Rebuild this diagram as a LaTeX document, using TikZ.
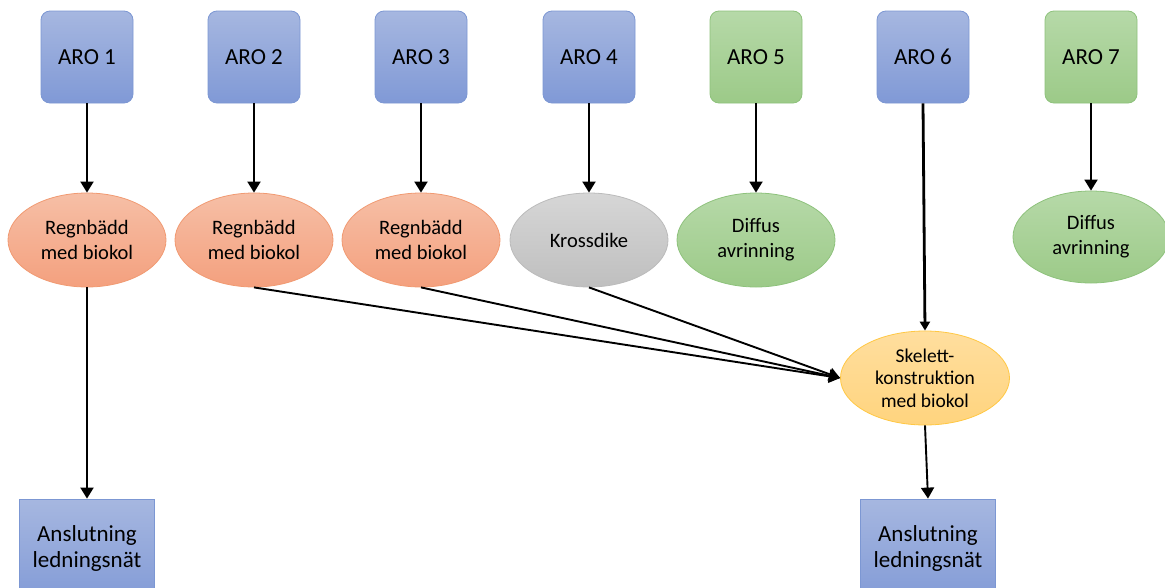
\documentclass[tikz,border=0pt]{standalone}
\usepackage{fontspec}
\setmainfont{Carlito}
\usetikzlibrary{arrows.meta,shapes.geometric}
\definecolor{blueT}{HTML}{A6B7E0}
\definecolor{blueB}{HTML}{8099D6}
\definecolor{blueD}{HTML}{7C97D3}
\definecolor{orT}{HTML}{F6BFA6}
\definecolor{orB}{HTML}{F4A07E}
\definecolor{orD}{HTML}{F19A72}
\definecolor{grT}{HTML}{D6D6D6}
\definecolor{grB}{HTML}{BFBFBF}
\definecolor{grD}{HTML}{BBBBBB}
\definecolor{gnT}{HTML}{B6D9A8}
\definecolor{gnB}{HTML}{9CCA88}
\definecolor{gnD}{HTML}{8EC27C}
\definecolor{yeT}{HTML}{FFDE9E}
\definecolor{yeB}{HTML}{FFD47E}
\definecolor{yeD}{HTML}{FFC844}
\tikzset{
  arobox/.style={rectangle, rounded corners=9pt, minimum width=92pt, minimum height=92pt,
    line width=0.8pt, font=\fontsize{23}{27}\selectfont, inner sep=0pt},
  bluefill/.style={top color=blueT, bottom color=blueB, draw=blueD},
  greenfill/.style={top color=gnT, bottom color=gnB, draw=gnD},
  oval/.style={ellipse, minimum width=158pt, minimum height=94pt, inner sep=0pt,
    line width=0.8pt, align=center, font=\fontsize{20.5}{25}\selectfont},
  orangefill/.style={top color=orT, bottom color=orB, draw=orD},
  greyfill/.style={top color=grT, bottom color=grB, draw=grD},
  yellowfill/.style={top color=yeT, bottom color=yeB, draw=yeD},
  endbox/.style={rectangle, minimum width=135pt, minimum height=98pt, inner sep=0pt,
    line width=0.8pt, align=center, font=\fontsize{23}{26}\selectfont,
    top color=blueT, bottom color=blueB!90!blueT, draw=blueD},
  flow/.style={line width=1.9pt, -{Triangle[length=11pt,width=13pt]}},
  thickflow/.style={flow, line width=2.8pt, -{Triangle[length=9pt,width=10pt]}}
}
\begin{document}
\begin{tikzpicture}[x=1pt,y=-1pt]
\useasboundingbox (0,0) rectangle (1165,587);
\clip (0,0) rectangle (1165,587);
\fill[white] (0,0) rectangle (1165,587);
% ARO boxes
\node[arobox,bluefill]  (A1) at (87,57)   {ARO 1};
\node[arobox,bluefill]  (A2) at (254,57)  {ARO 2};
\node[arobox,bluefill]  (A3) at (421,57)  {ARO 3};
\node[arobox,bluefill]  (A4) at (589,57)  {ARO 4};
\node[arobox,greenfill] (A5) at (756,57)  {ARO 5};
\node[arobox,bluefill]  (A6) at (923,57)  {ARO 6};
\node[arobox,greenfill] (A7) at (1091,57) {ARO 7};
% ellipses
\node[oval,orangefill] (R1) at (87,240)  {Regnbädd\\med biokol};
\node[oval,orangefill] (R2) at (254,240) {Regnbädd\\med biokol};
\node[oval,orangefill] (R3) at (421,240) {Regnbädd\\med biokol};
\node[oval,greyfill]   (K4) at (589,240) {Krossdike};
\node[oval,greenfill]  (D5) at (756,240) {Diffus\\avrinning};
\node[oval,greenfill,minimum width=156pt,minimum height=92pt] (D7) at (1091,237) {Diffus\\avrinning};
\node[oval,yellowfill,minimum width=169pt,minimum height=94pt,font=\fontsize{19.5}{22.5}\selectfont]
  (S) at (925,378) {Skelett-\\konstruktion\\med biokol};
% end boxes
\node[endbox] (N1) at (87,548)  {Anslutning\\ledningsnät};
\node[endbox] (N2) at (928,548) {Anslutning\\ledningsnät};
% connectors
\draw[flow] (A1.south) -- (R1.north);
\draw[flow] (A2.south) -- (R2.north);
\draw[flow] (A3.south) -- (R3.north);
\draw[flow] (A4.south) -- (K4.north);
\draw[flow] (A5.south) -- (D5.north);
\draw[flow] (A7.south) -- (D7.north);
\draw[flow] (R1.south) -- (N1.north);
\draw[thickflow] (A6.south) -- (S.north);
\draw[flow] (R2.south) -- (S.west);
\draw[flow] (R3.south) -- (S.west);
\draw[flow] (K4.south) -- (S.west);
\draw[flow] (S.south) -- (N2.north);
\end{tikzpicture}
\end{document}
